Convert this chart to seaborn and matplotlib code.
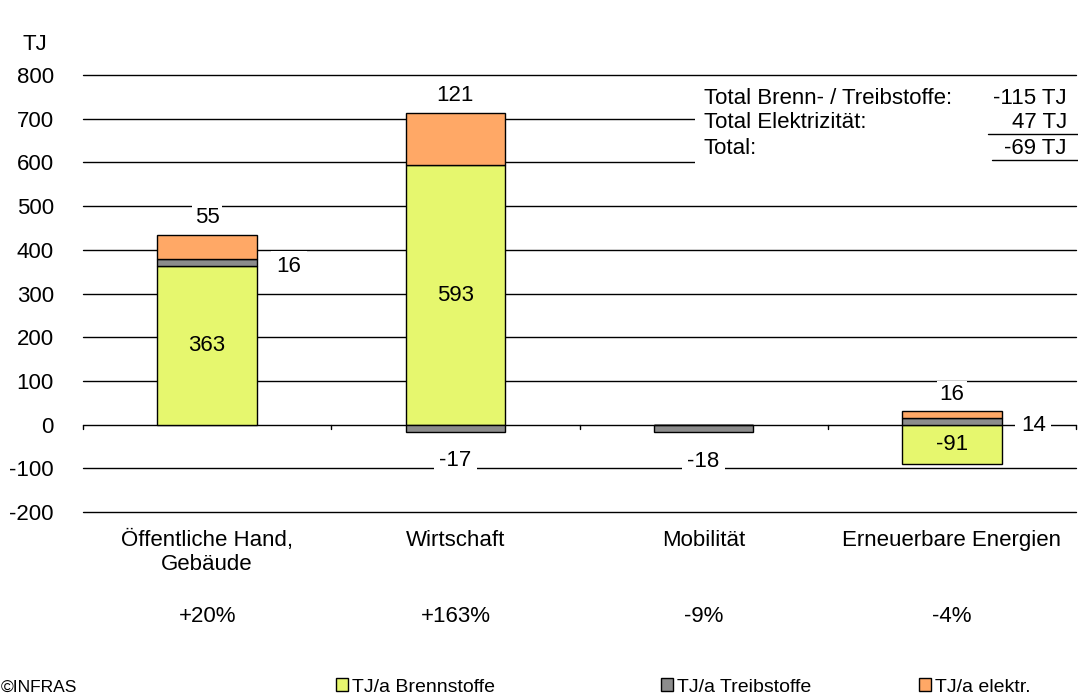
import matplotlib
matplotlib.use("Agg")
import matplotlib.pyplot as plt
import matplotlib.patches as mpatches
import seaborn as sns
import pandas as pd
import numpy as np

categories = ["Öffentliche Hand,\nGebäude", "Wirtschaft", "Mobilität", "Erneuerbare Energien"]
brennstoffe = [363, 593, 0, -91]
treibstoffe = [16, -17, -18, 14]
elektr = [55, 121, 0, 16]
percent_labels = ["+20%", "+163%", "-9%", "-4%"]
series_names = ["TJ/a Brennstoffe", "TJ/a Treibstoffe", "TJ/a elektr."]
totals_labels = ["Total Brenn- / Treibstoffe:", "Total Elektrizität:", "Total:"]
totals_values = ["-115 TJ", "47 TJ", "-69 TJ"]
yticks = [-200, -100, 0, 100, 200, 300, 400, 500, 600, 700, 800]

colors = ["#E6F76E", "#8C8C8C", "#FFA866"]

sns.set_theme(style="white")
plt.rcParams["font.family"] = ["Liberation Sans", "DejaVu Sans"]
plt.rcParams["text.color"] = "black"
plt.rcParams["ytick.color"] = "black"
plt.rcParams["xtick.color"] = "black"

W, H = 1078, 697
fig = plt.figure(figsize=(W / 100, H / 100), dpi=100)
ax = fig.add_axes([83 / W, 1 - 512 / H, (1076 - 83) / W, (512 - 75) / H])

ax.set_xlim(-0.5, 3.5)
ax.set_ylim(-200, 800)

# gridlines
for v in yticks:
    ax.axhline(v, color="black", lw=1.0, zorder=1, clip_on=False)
# small ticks on zero line at category boundaries
for b in np.arange(-0.5, 4.0, 1.0):
    ax.plot([b, b], [0, -10], color="black", lw=1.0, zorder=1, clip_on=False)

series = [brennstoffe, treibstoffe, elektr]
pos_base = np.zeros(len(categories))
neg_base = np.zeros(len(categories))
bottoms = []
for vals in series:
    vals = np.array(vals, dtype=float)
    b = np.where(vals >= 0, pos_base, neg_base)
    bottoms.append(b.copy())
    pos_base = pos_base + np.where(vals >= 0, vals, 0)
    neg_base = neg_base + np.where(vals < 0, vals, 0)

xcats = list(range(len(categories)))
for vals, b, c in zip(series, bottoms, colors):
    df = pd.DataFrame({"x": xcats, "y": vals})
    sns.barplot(data=df, x="x", y="y", bottom=b, color=c, edgecolor="black",
                linewidth=1.0, width=0.4, errorbar=None, saturation=1,
                native_scale=True, ax=ax, zorder=3)

ax.set_xlim(-0.5, 3.5)
ax.set_ylim(-200, 800)

bbox = dict(facecolor="white", edgecolor="none", pad=4)
bbox_small = dict(facecolor="white", edgecolor="none", pad=2)
fs = 16
# Brennstoffe labels: centered in bar
for i, (v, b) in enumerate(zip(brennstoffe, bottoms[0])):
    if v != 0:
        ax.text(i, b + v / 2, f"{v}", ha="center", va="center", fontsize=fs, zorder=5)
# Treibstoffe labels
for i, (v, b) in enumerate(zip(treibstoffe, bottoms[1])):
    if v >= 0:
        ax.annotate(f"{v}", xy=(i + 0.2, b + v / 2), xytext=(23, -3),
                    textcoords="offset points", ha="center", va="center",
                    fontsize=fs, bbox=bbox, zorder=5)
    else:
        ax.annotate(f"{v}", xy=(i, b + v), xytext=(0, -13),
                    textcoords="offset points", ha="center", va="top",
                    fontsize=fs, bbox=bbox, zorder=5)
# elektr labels above bar
for i, (v, b) in enumerate(zip(elektr, bottoms[2])):
    if v != 0:
        ax.annotate(f"{v}", xy=(i, b + v), xytext=(0, 5),
                    textcoords="offset points", ha="center", va="bottom",
                    fontsize=fs, bbox=bbox_small, zorder=5)

ax.set_yticks(yticks)
ax.set_yticklabels([str(v) for v in yticks], fontsize=fs)
ax.tick_params(axis="y", length=0, pad=21)
ax.set_xticks([])
ax.set_xlabel("")
ax.set_ylabel("")
for s in ax.spines.values():
    s.set_visible(False)
ax.set_facecolor("none")

# category and percent labels
for i, (c, p) in enumerate(zip(categories, percent_labels)):
    ax.text(i, -0.042, c, transform=ax.get_xaxis_transform(), ha="center", va="top",
            fontsize=fs, linespacing=1.15)
    ax.text(i, -0.238, p, transform=ax.get_xaxis_transform(), ha="center", va="center",
            fontsize=fs)

# unit label
fig.text(35 / W, 1 - 45 / H, "TJ", ha="center", va="center", fontsize=fs)

# totals box
fig.patches.append(mpatches.Rectangle((695 / W, 1 - 166 / H), (W - 695) / W, (166 - 85) / H,
                                      transform=fig.transFigure, facecolor="white",
                                      edgecolor="none", zorder=4))
rows_y = [99, 123, 148]
for lab, val, yy in zip(totals_labels, totals_values, rows_y):
    fig.text(704 / W, 1 - yy / H, lab, ha="left", va="center", fontsize=fs, zorder=6)
    fig.text(1067 / W, 1 - yy / H, val, ha="right", va="center", fontsize=fs, zorder=6)
for yy, x0 in [(134, 988), (160, 992)]:
    fig.add_artist(plt.Line2D([x0 / W, 1.0], [1 - yy / H, 1 - yy / H], color="black",
                              lw=1.0, transform=fig.transFigure, zorder=6))

# legend entries
leg_x = [336, 661, 919]
for name, c, lx in zip(series_names, colors, leg_x):
    h = mpatches.Patch(facecolor=c, edgecolor="black", linewidth=1.0, label=name)
    fig.legend(handles=[h], loc="center left", bbox_to_anchor=(lx / W, 1 - 687 / H),
               frameon=False, fontsize=14, handlelength=0.6, handleheight=0.6,
               handletextpad=0.2, borderpad=0, borderaxespad=0)

fig.text(1 / W, 1 - 687 / H, "©INFRAS", ha="left", va="center", fontsize=12.5)

fig.savefig("out.png", dpi=100)
